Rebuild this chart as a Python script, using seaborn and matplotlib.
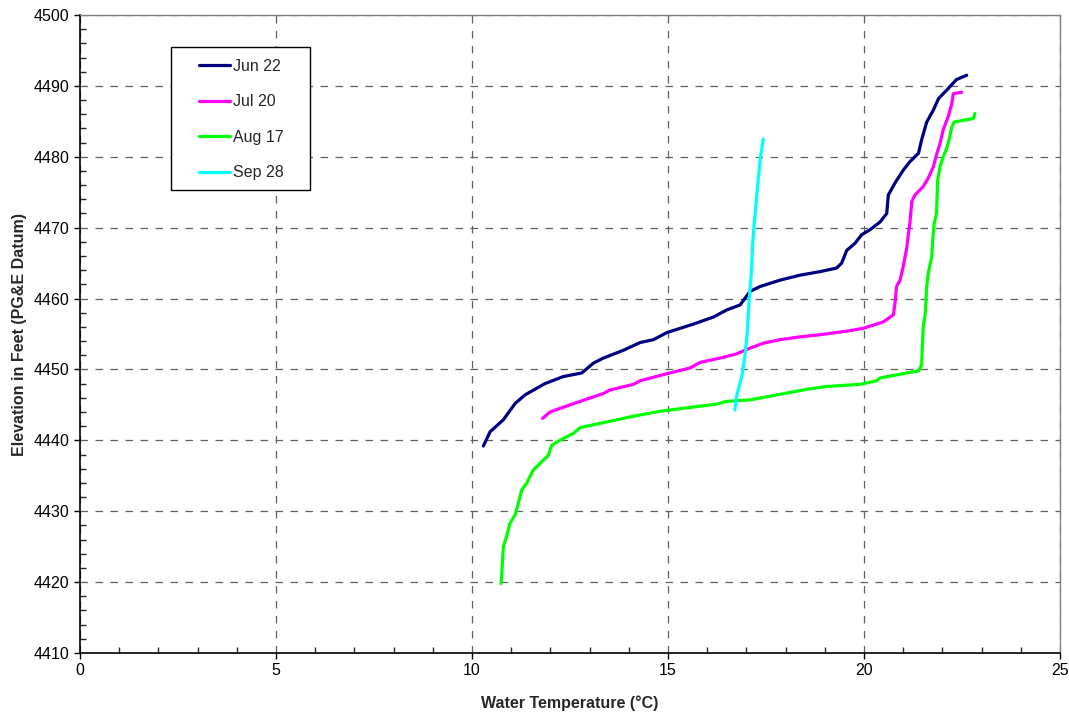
import pandas as pd
import seaborn as sns
import matplotlib.pyplot as plt
from matplotlib.patches import Rectangle
from matplotlib.ticker import MultipleLocator

# Perfiles de temperatura vs elevacion

jun22_temp = [10.29, 10.46, 10.80, 11.10, 11.35, 11.86, 12.33, 12.80, 13.10, 13.35, 13.86, 14.29,
              14.63, 14.97, 15.65, 16.16, 16.50, 16.84, 16.96, 17.09, 17.35, 17.86, 18.37, 18.88,
              19.30, 19.43, 19.56, 19.77, 19.94, 20.15, 20.41, 20.58, 20.62, 20.79, 21.00, 21.17,
              21.39, 21.47, 21.60, 21.77, 21.90, 22.11, 22.36, 22.62]
jun22_elev = [4439.2, 4441.2, 4442.9, 4445.2, 4446.4, 4448.0, 4449.0, 4449.5, 4450.9, 4451.6, 4452.7, 4453.8,
              4454.2, 4455.2, 4456.4, 4457.4, 4458.4, 4459.1, 4460.0, 4461.0, 4461.7, 4462.6, 4463.3, 4463.8,
              4464.3, 4465.0, 4466.8, 4467.8, 4469.0, 4469.7, 4470.8, 4472.0, 4474.6, 4476.3, 4478.1, 4479.3,
              4480.5, 4482.4, 4484.9, 4486.6, 4488.2, 4489.4, 4490.9, 4491.5]

jul20_temp = [11.80, 11.99, 12.24, 12.76, 13.35, 13.52, 14.12, 14.29, 14.97, 15.56, 15.82, 16.41,
              16.75, 17.09, 17.43, 17.86, 18.37, 18.88, 19.56, 19.98, 20.49, 20.75, 20.79, 20.83,
              20.92, 21.00, 21.09, 21.13, 21.17, 21.22, 21.30, 21.51, 21.64, 21.77, 21.85, 21.94,
              22.02, 22.15, 22.24, 22.28, 22.49]
jul20_elev = [4443.1, 4444.0, 4444.5, 4445.5, 4446.6, 4447.1, 4447.9, 4448.4, 4449.4, 4450.2, 4451.0, 4451.7,
              4452.2, 4453.0, 4453.7, 4454.2, 4454.6, 4454.9, 4455.4, 4455.8, 4456.7, 4457.7, 4459.3, 4461.7,
              4462.6, 4464.5, 4467.1, 4469.0, 4470.6, 4473.7, 4474.6, 4475.8, 4477.0, 4478.6, 4480.3, 4481.9,
              4483.8, 4485.7, 4487.5, 4488.9, 4489.1]

aug17_temp = [10.74, 10.76, 10.80, 10.88, 10.97, 11.10, 11.18, 11.27, 11.39, 11.56, 11.95, 12.03,
              12.24, 12.59, 12.76, 13.10, 13.44, 14.12, 14.80, 15.65, 16.24, 16.50, 17.09, 17.77,
              18.54, 19.05, 19.90, 20.32, 20.41, 21.39, 21.47, 21.51, 21.56, 21.60, 21.64, 21.73,
              21.75, 21.79, 21.85, 21.88, 21.94, 22.02, 22.11, 22.17, 22.24, 22.30, 22.79, 22.83]
aug17_elev = [4419.8, 4421.2, 4425.0, 4426.4, 4428.3, 4429.5, 4431.1, 4433.0, 4433.9, 4435.8, 4437.9, 4439.3,
              4440.0, 4441.0, 4441.8, 4442.2, 4442.6, 4443.4, 4444.1, 4444.7, 4445.1, 4445.5, 4445.7, 4446.4,
              4447.2, 4447.6, 4447.9, 4448.4, 4448.8, 4449.8, 4450.6, 4456.0, 4457.7, 4461.7, 4463.6, 4465.9,
              4468.0, 4470.6, 4472.0, 4476.7, 4478.6, 4480.0, 4481.2, 4482.4, 4484.2, 4484.9, 4485.4, 4486.1]

sep28_temp = [16.71, 16.75, 16.88, 16.96, 17.02, 17.07, 17.13, 17.16, 17.20, 17.30, 17.36, 17.43]
sep28_elev = [4444.3, 4446.2, 4449.0, 4451.8, 4455.1, 4459.8, 4464.0, 4467.8, 4470.6, 4476.7, 4480.0, 4482.5]

fechas = ['Jun 22', 'Jul 20', 'Aug 17', 'Sep 28']
colores = ['#000080', '#FF00FF', '#00FF00', '#00FFFF']

series = [(jun22_temp, jun22_elev), (jul20_temp, jul20_elev),
          (aug17_temp, aug17_elev), (sep28_temp, sep28_elev)]
df = pd.concat([pd.DataFrame({'temp': t, 'elev': e, 'fecha': f})
                for (t, e), f in zip(series, fechas)], ignore_index=True)

sns.set_style('white')
plt.rcParams['font.family'] = ['Liberation Sans', 'DejaVu Sans']

fig = plt.figure(figsize=(10.69, 7.17), dpi=100)
ax = fig.add_axes([80 / 1069, 1 - 653 / 717, 980 / 1069, 638 / 717])

sns.lineplot(data=df, x='temp', y='elev', hue='fecha', hue_order=fechas, palette=colores,
             sort=False, estimator=None, linewidth=2.3, ax=ax)

ax.set_xlim(0, 25)
ax.set_ylim(4410, 4500)
ax.xaxis.set_major_locator(MultipleLocator(5))
ax.xaxis.set_minor_locator(MultipleLocator(1))
ax.yaxis.set_major_locator(MultipleLocator(10))
ax.yaxis.set_minor_locator(MultipleLocator(2))
ax.tick_params(which='major', direction='out', length=4, width=1, labelsize=11.5, colors='black')
ax.tick_params(which='minor', direction='in', length=4, width=1)
ax.tick_params(which='both', bottom=True, left=True)
ax.grid(True, which='major', color='#606060', linestyle=(0, (6, 6)), linewidth=0.9)

for s in ['left', 'bottom']:
    ax.spines[s].set_color('black')
    ax.spines[s].set_linewidth(1.2)
for s in ['top', 'right']:
    ax.spines[s].set_color('#808080')
    ax.spines[s].set_linewidth(1.0)

ax.set_xlabel('Water Temperature (°C)', fontsize=11.5, fontweight='bold', labelpad=12)
ax.set_ylabel('Elevation in Feet (PG&E Datum)', fontsize=11.5, fontweight='bold', labelpad=5)

# caja de la leyenda
ax.add_patch(Rectangle((91 / 980, 1 - 175 / 638), 139 / 980, 143 / 638, transform=ax.transAxes,
                       facecolor='white', edgecolor='black', linewidth=1.0, zorder=4.9))
leg = ax.legend(loc='upper left', bbox_to_anchor=(119 / 980, 1 - 44 / 638), borderaxespad=0,
                frameon=False, fontsize=11.5, labelspacing=1.28, handlelength=1.95,
                handletextpad=0.2, borderpad=0)
leg.set_zorder(5)
for h in leg.get_lines():
    h.set_linewidth(2.3)

fig.savefig('out.png', dpi=100)
